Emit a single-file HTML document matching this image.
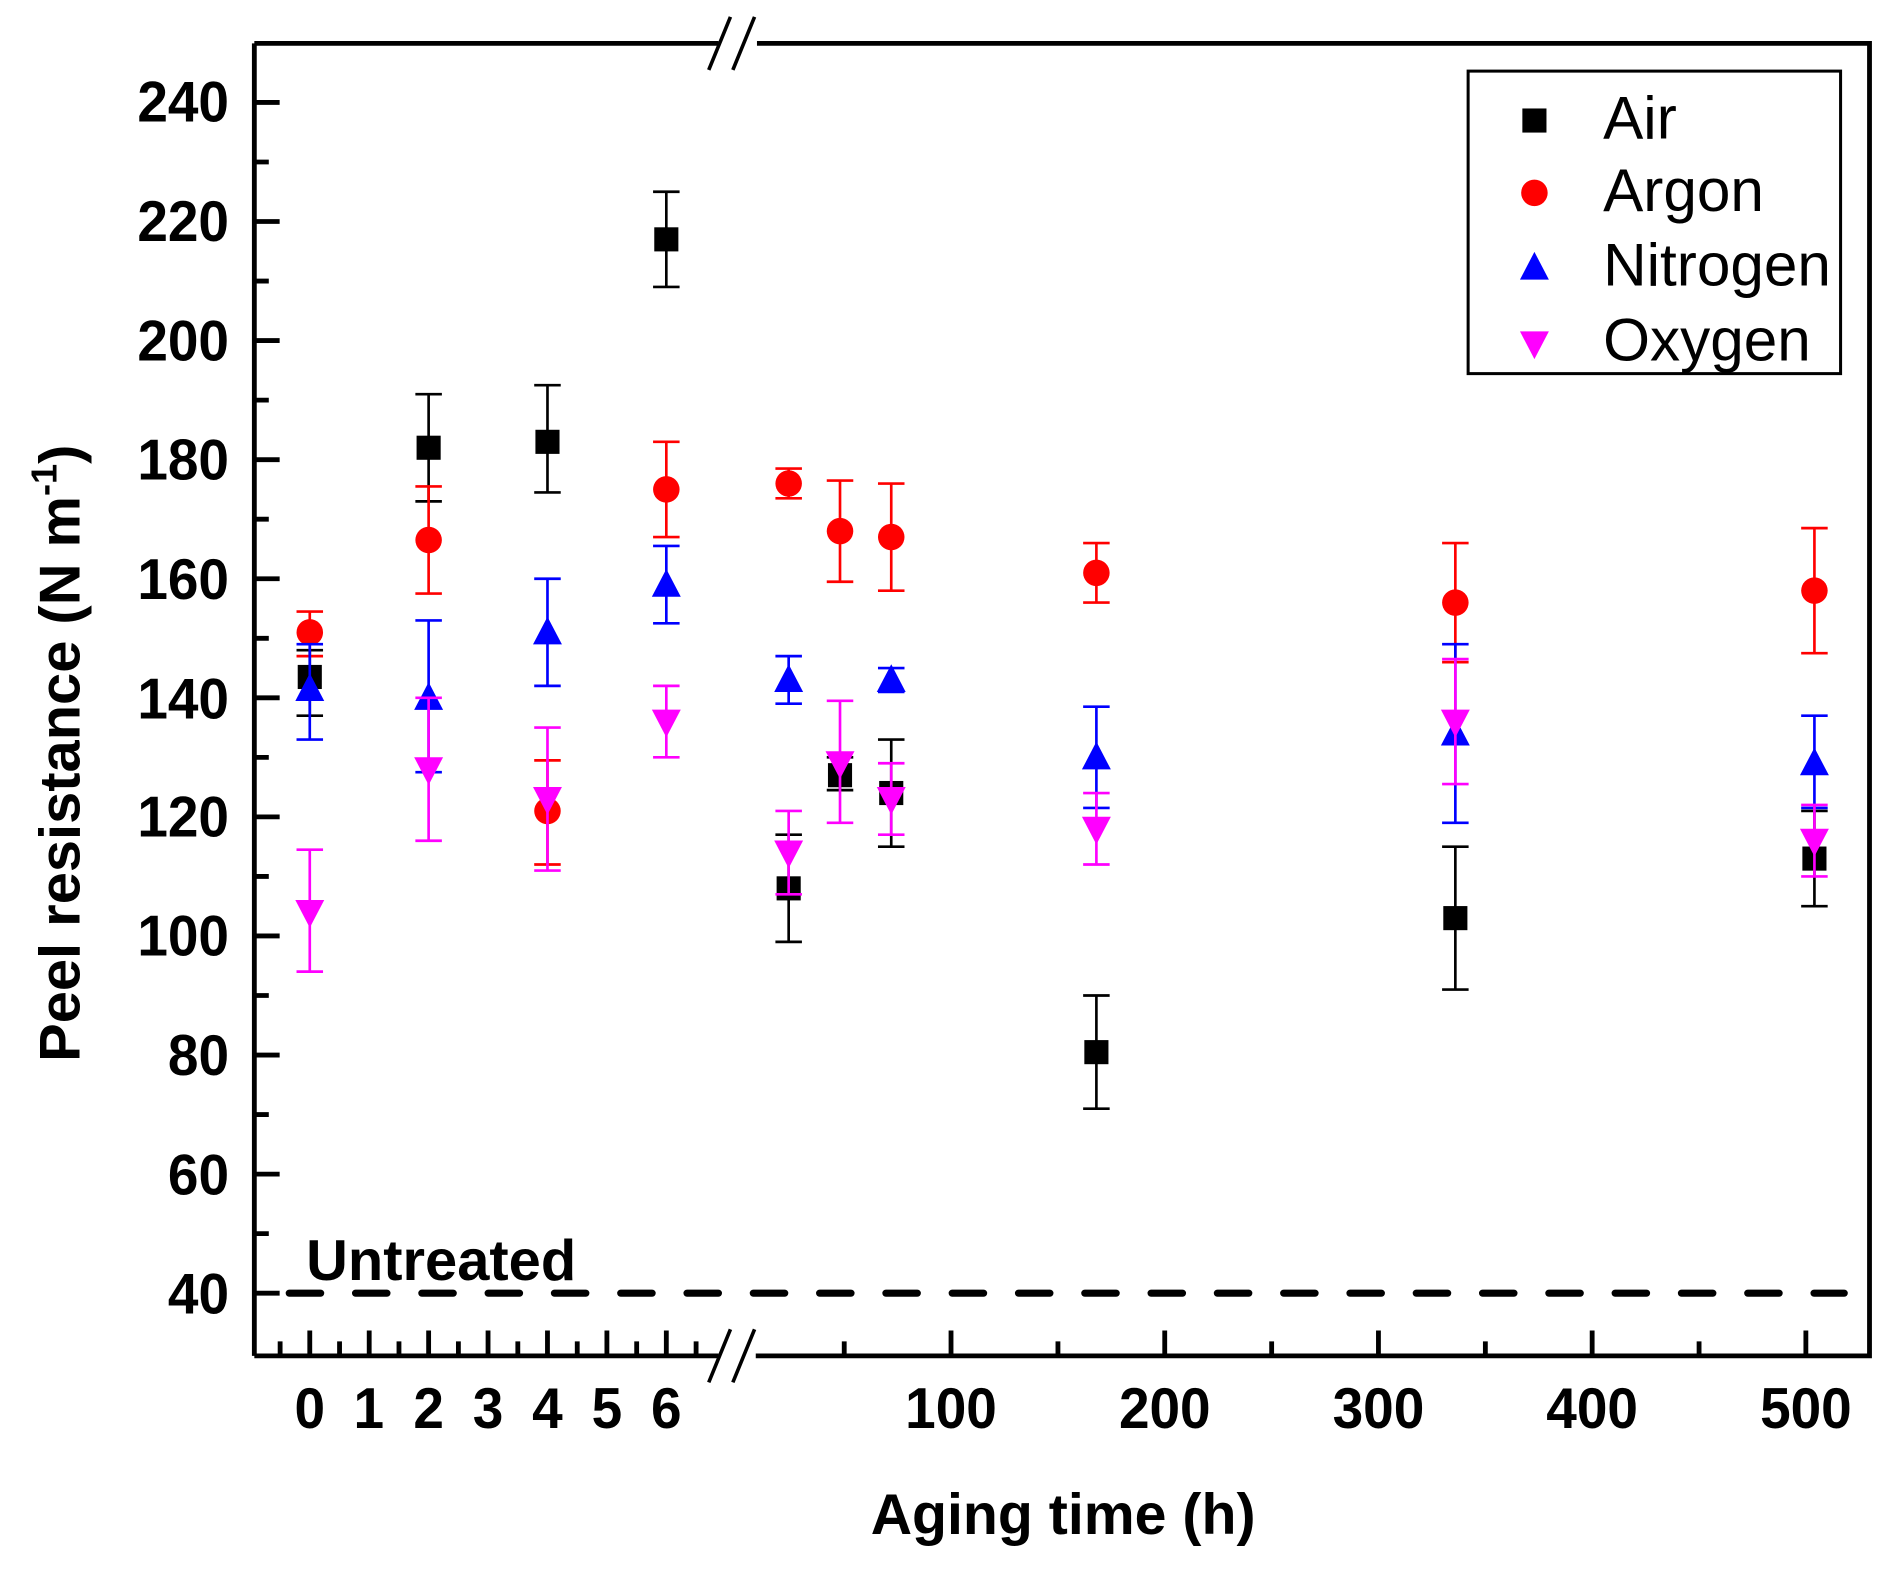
<!DOCTYPE html>
<html><head><meta charset="utf-8"><style>html,body{margin:0;padding:0;background:#fff}svg{display:block}</style></head><body>
<svg width="1890" height="1574" viewBox="0 0 1568 1306" preserveAspectRatio="none" xmlns="http://www.w3.org/2000/svg" font-family="Liberation Sans, Arial, sans-serif">
<defs>
<rect id="sq" x="-10" y="-10" width="20" height="20" fill="#000"/>
<circle id="ci" r="11" fill="#ff0000"/>
<polygon id="tu" points="0,-13 -12,10 12,10" fill="#0000ff"/>
<polygon id="td" points="-12,-10 12,-10 0,13" fill="#ff00ff"/>
</defs>
<rect width="1568" height="1306" fill="#fff"/>
<line x1="240" y1="1073" x2="1530" y2="1073" stroke="#000" stroke-width="6" stroke-dasharray="26,29" stroke-linecap="round"/>
<text x="254" y="1062" font-size="48" font-weight="bold">Untreated</text>
<g stroke="#000" stroke-width="4" fill="none">
<path d="M211 36 H596 M628 36 H1551 V1125 H627 M596 1125 H211 Z"/>
<path d="M211 36 V1125"/>
<path d="M588 58 L606 14 M608 58 L626 14 M588 1147 L606 1103 M608 1147 L626 1103" stroke-width="3"/>
<path d="M211 85H232M211 183.8H232M211 282.6H232M211 381.4H232M211 480.2H232M211 579H232M211 677.8H232M211 776.6H232M211 875.4H232M211 974.2H232M211 1073H232"/>
<path d="M211 134.4H223M211 233.2H223M211 332H223M211 430.8H223M211 529.6H223M211 628.4H223M211 727.2H223M211 826H223M211 924.8H223M211 1023.6H223"/>
<path d="M257 1125V1104M306.3 1125V1104M355.6 1125V1104M404.9 1125V1104M454.2 1125V1104M503.5 1125V1104M552.8 1125V1104M789 1125V1104M966.3 1125V1104M1143.6 1125V1104M1320.9 1125V1104M1498.2 1125V1104"/>
<path d="M232.4 1125V1113M281.7 1125V1113M331 1125V1113M380.3 1125V1113M429.6 1125V1113M478.9 1125V1113M528.2 1125V1113M577.5 1125V1113M700.4 1125V1113M877.7 1125V1113M1055 1125V1113M1232.3 1125V1113M1409.6 1125V1113"/>
</g>
<g font-size="48" font-weight="bold" text-anchor="end" transform="scale(0.95 1)">
<text x="200" y="101">240</text><text x="200" y="200">220</text><text x="200" y="299">200</text><text x="200" y="398">180</text><text x="200" y="497">160</text><text x="200" y="596">140</text><text x="200" y="694">120</text><text x="200" y="793">100</text><text x="200" y="892">80</text><text x="200" y="991">60</text><text x="200" y="1090">40</text>
</g>
<g font-size="48" font-weight="bold" text-anchor="middle" transform="scale(0.95 1)">
<text x="270.5" y="1185">0</text><text x="322.1" y="1185">1</text><text x="374.3" y="1185">2</text><text x="426.2" y="1185">3</text><text x="478.1" y="1185">4</text><text x="530" y="1185">5</text><text x="581.9" y="1185">6</text>
<text x="830.5" y="1185">100</text><text x="1017.2" y="1185">200</text><text x="1203.8" y="1185">300</text><text x="1390.4" y="1185">400</text><text x="1577.1" y="1185">500</text>
</g>
<text x="882" y="1273" font-size="47.5" font-weight="bold" text-anchor="middle">Aging time (h)</text>
<text transform="translate(66 625) rotate(-90)" font-size="48" font-weight="bold" text-anchor="middle">Peel resistance (N m<tspan dy="-19" font-size="30">-1</tspan><tspan dy="19">)</tspan></text>
<g stroke="#000" stroke-width="2.2" fill="none">
<path d="M246 593.8H268M257 593.8V539.5M246 539.5H268"/>
<path d="M344.6 416H366.6M355.6 416V327.1M344.6 327.1H366.6"/>
<path d="M443.2 408.6H465.2M454.2 408.6V319.6M443.2 319.6H465.2"/>
<path d="M541.8 238.1H563.8M552.8 238.1V159.1M541.8 159.1H563.8"/>
<path d="M643.3 781.5H665.3M654.3 781.5V692.6M643.3 692.6H665.3"/>
<path d="M685.9 655.6H707.9M696.9 655.6V628.4M685.9 628.4H707.9"/>
<path d="M728.4 702.5H750.4M739.4 702.5V613.6M728.4 613.6H750.4"/>
<path d="M898.6 919.9H920.6M909.6 919.9V826M898.6 826H920.6"/>
<path d="M1196.4 821.1H1218.4M1207.4 821.1V702.5M1196.4 702.5H1218.4"/>
<path d="M1494.3 751.9H1516.3M1505.3 751.9V672.9M1494.3 672.9H1516.3"/>
</g>
<use href="#sq" x="257" y="561.7"/><use href="#sq" x="355.6" y="371.5"/><use href="#sq" x="454.2" y="366.6"/><use href="#sq" x="552.8" y="198.6"/><use href="#sq" x="654.3" y="737.1"/><use href="#sq" x="696.9" y="643.2"/><use href="#sq" x="739.4" y="658"/><use href="#sq" x="909.6" y="873"/><use href="#sq" x="1207.4" y="761.8"/><use href="#sq" x="1505.3" y="712.4"/>
<g stroke="#ff0000" stroke-width="2.2" fill="none">
<path d="M246 544.4H268M257 544.4V507.4M246 507.4H268"/>
<path d="M344.6 492.5H366.6M355.6 492.5V403.6M344.6 403.6H366.6"/>
<path d="M443.2 717.3H465.2M454.2 717.3V630.9M443.2 630.9H465.2"/>
<path d="M541.8 445.6H563.8M552.8 445.6V366.6M541.8 366.6H563.8"/>
<path d="M643.3 413.5H665.3M654.3 413.5V388.8M643.3 388.8H665.3"/>
<path d="M685.9 482.7H707.9M696.9 482.7V398.7M685.9 398.7H707.9"/>
<path d="M728.4 490.1H750.4M739.4 490.1V401.2M728.4 401.2H750.4"/>
<path d="M898.6 500H920.6M909.6 500V450.6M898.6 450.6H920.6"/>
<path d="M1196.4 549.4H1218.4M1207.4 549.4V450.6M1196.4 450.6H1218.4"/>
<path d="M1494.3 542H1516.3M1505.3 542V438.2M1494.3 438.2H1516.3"/>
</g>
<use href="#ci" x="257" y="524.7"/><use href="#ci" x="355.6" y="448.1"/><use href="#ci" x="454.2" y="672.9"/><use href="#ci" x="552.8" y="406.1"/><use href="#ci" x="654.3" y="401.2"/><use href="#ci" x="696.9" y="440.7"/><use href="#ci" x="739.4" y="445.6"/><use href="#ci" x="909.6" y="475.3"/><use href="#ci" x="1207.4" y="500"/><use href="#ci" x="1505.3" y="490.1"/>
<g stroke="#0000ff" stroke-width="2.2" fill="none">
<path d="M246 613.6H268M257 613.6V534.5M246 534.5H268"/>
<path d="M344.6 640.7H366.6M355.6 640.7V514.8M344.6 514.8H366.6"/>
<path d="M443.2 569.1H465.2M454.2 569.1V480.2M443.2 480.2H465.2"/>
<path d="M541.8 517.2H563.8M552.8 517.2V453M541.8 453H563.8"/>
<path d="M643.3 583.9H665.3M654.3 583.9V544.4M643.3 544.4H665.3"/>
<path d="M728.4 574.1H750.4M739.4 574.1V554.3M728.4 554.3H750.4"/>
<path d="M898.6 670.4H920.6M909.6 670.4V586.4M898.6 586.4H920.6"/>
<path d="M1196.4 682.7H1218.4M1207.4 682.7V534.5M1196.4 534.5H1218.4"/>
<path d="M1494.3 670.4H1516.3M1505.3 670.4V593.8M1494.3 593.8H1516.3"/>
</g>
<use href="#tu" x="257" y="571.6"/><use href="#tu" x="355.6" y="579"/><use href="#tu" x="454.2" y="524.7"/><use href="#tu" x="552.8" y="485.1"/><use href="#tu" x="654.3" y="564.2"/><use href="#tu" x="739.4" y="564.2"/><use href="#tu" x="909.6" y="628.4"/><use href="#tu" x="1207.4" y="608.6"/><use href="#tu" x="1505.3" y="633.3"/>
<g stroke="#ff00ff" stroke-width="2.2" fill="none">
<path d="M246 806.2H268M257 806.2V705M246 705H268"/>
<path d="M344.6 697.6H366.6M355.6 697.6V579M344.6 579H366.6"/>
<path d="M443.2 722.3H465.2M454.2 722.3V603.7M443.2 603.7H465.2"/>
<path d="M541.8 628.4H563.8M552.8 628.4V569.1M541.8 569.1H563.8"/>
<path d="M643.3 742H665.3M654.3 742V672.9M643.3 672.9H665.3"/>
<path d="M685.9 682.7H707.9M696.9 682.7V581.5M685.9 581.5H707.9"/>
<path d="M728.4 692.6H750.4M739.4 692.6V633.3M728.4 633.3H750.4"/>
<path d="M898.6 717.3H920.6M909.6 717.3V658M898.6 658H920.6"/>
<path d="M1196.4 650.6H1218.4M1207.4 650.6V546.9M1196.4 546.9H1218.4"/>
<path d="M1494.3 727.2H1516.3M1505.3 727.2V667.9M1494.3 667.9H1516.3"/>
</g>
<use href="#td" x="257" y="756.8"/><use href="#td" x="355.6" y="638.3"/><use href="#td" x="454.2" y="663"/><use href="#td" x="552.8" y="598.8"/><use href="#td" x="654.3" y="707.4"/><use href="#td" x="696.9" y="633.3"/><use href="#td" x="739.4" y="663"/><use href="#td" x="909.6" y="687.7"/><use href="#td" x="1207.4" y="598.8"/><use href="#td" x="1505.3" y="697.6"/>
<rect x="1218" y="59" width="309" height="251" fill="#fff" stroke="#000" stroke-width="2.5"/>
<use href="#sq" x="1273" y="100"/><use href="#ci" x="1273" y="160"/><use href="#tu" x="1273" y="222"/><use href="#td" x="1273" y="285"/>
<g font-size="50">
<text x="1330" y="115">Air</text><text x="1330" y="175">Argon</text><text x="1330" y="237">Nitrogen</text><text x="1330" y="299">Oxygen</text>
</g>
</svg>
</body></html>
